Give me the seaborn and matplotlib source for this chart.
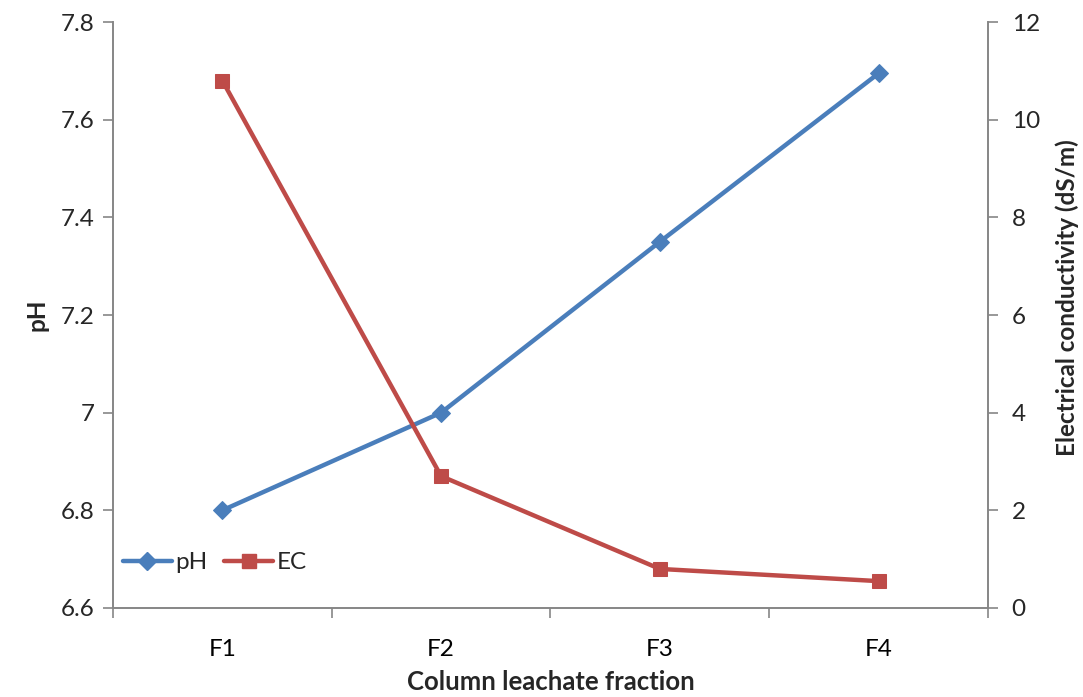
import matplotlib
matplotlib.use("Agg")
import matplotlib.pyplot as plt
import seaborn as sns
import pandas as pd
from matplotlib.lines import Line2D

# Leachate fractions and measured values
fractions = ["F1", "F2", "F3", "F4"]
ph_values = [6.80, 7.00, 7.35, 7.695]
ec_values = [10.8, 2.7, 0.80, 0.55]

ph_ticks = [6.6, 6.8, 7.0, 7.2, 7.4, 7.6, 7.8]
ph_tick_labels = ["6.6", "6.8", "7", "7.2", "7.4", "7.6", "7.8"]
ec_ticks = [0, 2, 4, 6, 8, 10, 12]

sns.set_theme(style="white")
plt.rcParams["font.family"] = ["Lato", "DejaVu Sans"]

blue = "#4A7EBB"
red = "#BE4B48"
axis_grey = "#868686"

df = pd.DataFrame({"fraction": fractions, "pH": ph_values, "EC": ec_values})

fig = plt.figure(figsize=(10.83, 6.97), dpi=100)
ax = fig.add_axes([0.1043, 0.1277, 0.808, 0.8407])
ax2 = ax.twinx()

sns.lineplot(data=df, x="fraction", y="pH", ax=ax, color=blue, linewidth=3.2,
             marker="D", markersize=9, markeredgecolor=blue, sort=False)
sns.lineplot(data=df, x="fraction", y="EC", ax=ax2, color=red, linewidth=3.2,
             marker="s", markersize=10.5, markeredgecolor=red, sort=False)

ax.set_xlim(-0.5, len(fractions) - 0.5)
ax.set_ylim(6.6, 7.8)
ax2.set_ylim(0, 12)

ax.set_yticks(ph_ticks)
ax.set_yticklabels(ph_tick_labels)
ax2.set_yticks(ec_ticks)
ax.set_xticks(range(len(fractions)))
ax.set_xticklabels(fractions)

# Category-boundary tick marks on the x axis, as in spreadsheet charts
ax.set_xticks([i - 0.5 for i in range(len(fractions) + 1)], minor=True)
ax.tick_params(axis="x", which="major", length=0, labelsize=17.5, pad=22, colors="black")
ax.tick_params(axis="x", which="minor", length=7, width=1.2, color=axis_grey, direction="out", bottom=True)
ax.tick_params(axis="y", length=7, width=1.2, color=axis_grey, direction="out", labelsize=17.5, pad=6, left=True)
ax2.tick_params(axis="y", length=7, width=1.2, color=axis_grey, direction="out", labelsize=17.5, pad=10, right=True)

for a in (ax, ax2):
    a.spines["top"].set_visible(False)
    for side in ("left", "right", "bottom"):
        a.spines[side].set_color(axis_grey)
        a.spines[side].set_linewidth(1.4)
    a.grid(False)
ax.spines["right"].set_visible(False)
ax2.spines["left"].set_visible(False)
ax2.spines["bottom"].set_visible(False)

ax.set_xlabel("Column leachate fraction", fontsize=18.5, fontweight="bold")
ax.xaxis.set_label_coords(0.5, -0.105)
ax.set_ylabel("pH", fontsize=17.5, fontweight="bold", labelpad=9)
ax2.set_ylabel("Electrical conductivity (dS/m)", fontsize=17.5, fontweight="bold")
ax2.yaxis.set_label_coords(1.077, 0.53)

handles = [
    Line2D([0], [0], color=blue, linewidth=3.2, marker="D", markersize=9),
    Line2D([0], [0], color=red, linewidth=3.2, marker="s", markersize=10.5),
]
ax.legend(handles, ["pH", "EC"], loc="lower left", bbox_to_anchor=(-0.008, 0.03),
          ncol=2, frameon=False, fontsize=17.5, handlelength=2.0,
          handletextpad=0.15, columnspacing=0.7, borderaxespad=0.3)

fig.savefig("out.png", dpi=100)
